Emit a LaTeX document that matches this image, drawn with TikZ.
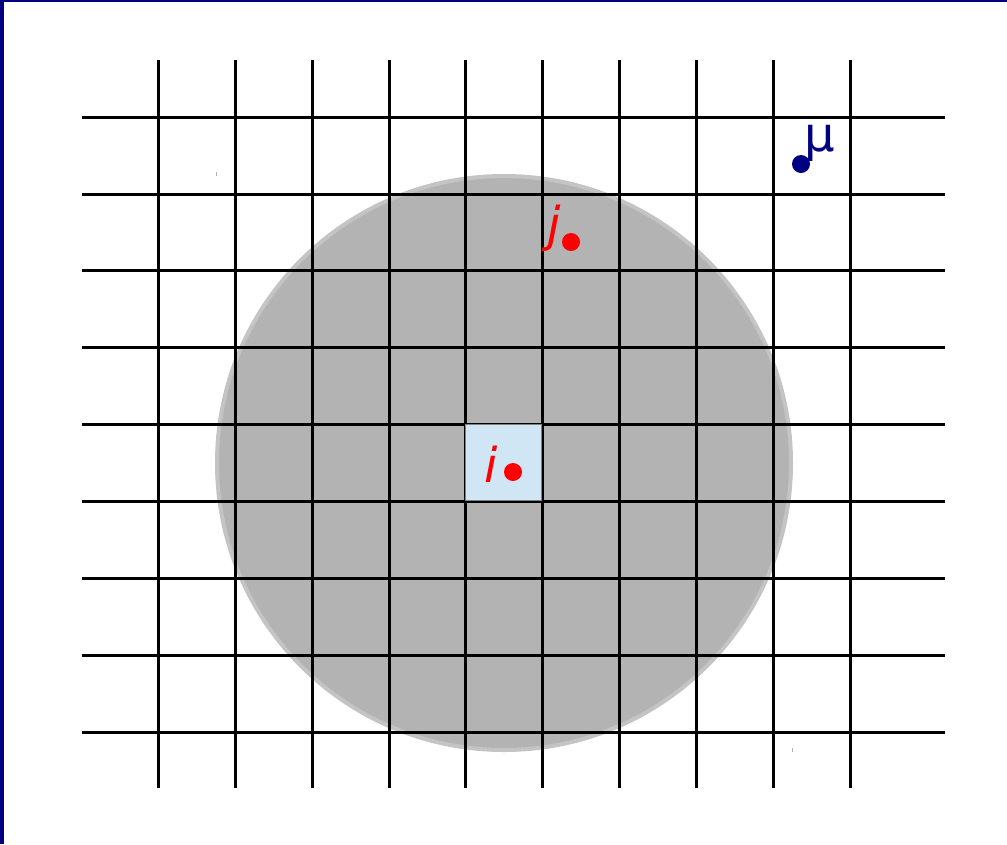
\documentclass[tikz,border=0pt]{standalone}
\usepackage{fontspec}
\setmainfont{DejaVu Sans}
\definecolor{navy}{RGB}{0,0,128}
\definecolor{ltblue}{RGB}{208,230,244}
\definecolor{circfill}{RGB}{179,179,179}
\definecolor{circedge}{RGB}{196,196,196}
\begin{document}
\begin{tikzpicture}[x=1pt,y=-1pt,
  gridline/.style={line width=3pt,black},
  reddot/.style={circle,fill=red,inner sep=0pt,minimum size=18pt},
  bluedot/.style={circle,fill=navy,inner sep=0pt,minimum size=18pt},
  lab/.style={font=\fontsize{48}{48}\selectfont\itshape,anchor=base,inner sep=0pt}]
\useasboundingbox (0,0) rectangle (1007,844);
\fill[white] (0,0) rectangle (1007,844);
% frame
\fill[navy] (0,0) rectangle (4,844);
\fill[navy] (0,0) rectangle (1007,2);
% circle
\node[circle,minimum size=574pt,fill=circfill,draw=circedge,line width=4pt] (disc) at (504,463) {};
% grid
\foreach \x in {158,235,312,389,465,542,619,696,773,850}
  \draw[gridline] (\x,60) -- (\x,788);
\foreach \y in {117,194,270,347,424,501,578,655,732}
  \draw[gridline] (82,\y) -- (945,\y);
% cell
\node[draw=gray,line width=0.6pt,fill=ltblue,minimum size=76pt,inner sep=0pt] (cell) at (503.5,462.5) {};
% tiny marks
\draw[gray!60,line width=0.8pt] (216,172) -- (216,176);
\draw[gray!60,line width=0.8pt] (792,748) -- (792,752);
% points
\node[reddot] (di) at (513,472) {};
\node[lab,text=red] (li) at (491,482) {i};
\node[reddot] (dj) at (571,242) {};
\node[lab,text=red] (lj) at (554,241) {j};
\node[bluedot] (dmu) at (801,164) {};
\node[anchor=base,inner sep=0pt,text=navy,font=\fontsize{48}{48}\selectfont] (lmu) at (820,151) {μ};
\end{tikzpicture}
\end{document}
